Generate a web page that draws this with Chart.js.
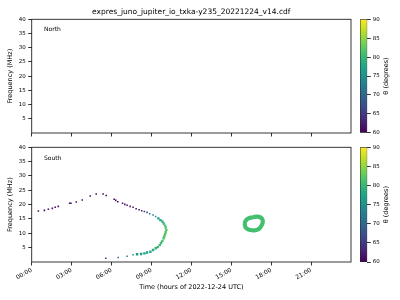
<!DOCTYPE html>
<html>
<head>
<meta charset="utf-8">
<script src="https://cdn.jsdelivr.net/npm/chart.js@4.4.1/dist/chart.umd.min.js"></script>
<style>
  body { margin: 0; background: #fff; }
  #fig { position: relative; width: 400px; height: 300px; overflow: hidden; }
  #fig canvas { position: absolute; }
</style>
</head>
<body>
<div id="fig">
  <canvas id="northChart" width="355" height="145" style="left:0;top:0"></canvas>
  <canvas id="northBar" width="45" height="145" style="left:355px;top:0"></canvas>
  <canvas id="southChart" width="355" height="160" style="left:0;top:140px"></canvas>
  <canvas id="southBar" width="45" height="160" style="left:355px;top:140px"></canvas>
</div>
<script>
// ---- data ----
var figTitle = "expres_juno_jupiter_io_txka-y235_20221224_v14.cdf";
var xLabel = "Time (hours of 2022-12-24 UTC)";
var yLabel = "Frequency (MHz)";
var cbLabel = "θ (degrees)";

var hourTicks = [0, 3, 6, 9, 12, 15, 18, 21];
var freqTicks = [5, 10, 15, 20, 25, 30, 35, 40];
var thetaTicks = [60, 65, 70, 75, 80, 85, 90];

// South hemisphere arc (hours, MHz, theta in degrees)
var southHours = [0.5, 0.95, 1.25, 1.55, 1.77, 2.0, 2.85, 2.95, 3.35, 3.8, 4.4, 4.85, 5.37, 5.6,
  6.2, 6.32, 6.47, 6.83, 7.0, 7.17, 7.4, 7.62, 7.85, 8.07, 8.27, 8.47, 8.67, 8.87, 9.12, 9.32,
  9.52, 9.67, 9.82, 9.92, 10.02, 10.07, 10.12, 10.07, 10.02, 9.97, 9.92, 9.82, 9.72, 9.62,
  9.47, 9.32, 9.12, 8.92, 8.67, 8.47, 8.22, 7.92, 7.62, 7.17, 6.5, 5.57];
var southFreq = [17.8, 18.0, 18.4, 18.7, 19.1, 19.4, 20.5, 20.5, 20.9, 21.6, 23.0, 23.7, 23.7, 23.2,
  21.9, 21.5, 21.0, 20.5, 20.1, 19.8, 19.4, 19.1, 18.6, 18.2, 17.9, 17.6, 17.3, 16.8, 16.4, 15.9,
  15.2, 14.6, 14.1, 13.4, 12.7, 12.0, 11.2, 10.4, 9.7, 9.0, 8.3, 7.3, 6.6, 5.9,
  5.2, 4.8, 4.2, 3.6, 3.3, 3.0, 2.8, 2.7, 2.5, 2.0, 1.6, 1.3];
var southTheta = [61, 61, 61, 61, 61, 61, 61, 61, 61, 61, 61, 61, 61, 61,
  61, 61, 61, 61.5, 61.5, 61.5, 62, 62, 62, 62.5, 63, 65, 67, 70, 73, 75,
  77, 78, 79, 80, 81, 82, 82, 82, 82, 82, 81.5, 81, 80.5, 80,
  79.5, 79, 78.5, 78, 77.5, 77, 76.5, 76, 75, 73.5, 71, 65];

// South ring near 17h
var ringHours = [16.62, 17.0, 17.3, 17.37, 17.27, 17.07, 16.75, 16.43, 16.13, 16.02, 16.07, 16.3];
var ringFreq = [15.6, 15.8, 15.2, 14.05, 12.7, 11.5, 11.05, 11.15, 11.75, 12.9, 14.3, 15.25];
var ringTheta = 81;

var thetaMin = 60;
var thetaMax = 90;
var hourMax = 24;
var freqMax = 40;

// ---- helpers ----
var viridisStops = ["#440154", "#482475", "#414487", "#355f8d", "#2a788e", "#21918c",
  "#22a884", "#44bf70", "#7ad151", "#bddf26", "#fde725"];

function hexRgb(h) {
  return [parseInt(h.substr(1, 2), 16), parseInt(h.substr(3, 2), 16), parseInt(h.substr(5, 2), 16)];
}

function viridis(v) {
  var t = (v - thetaMin) / (thetaMax - thetaMin);
  t = Math.min(1, Math.max(0, t)) * 10;
  var i = Math.min(9, Math.floor(t));
  var f = t - i;
  var a = hexRgb(viridisStops[i]), b = hexRgb(viridisStops[i + 1]);
  var c = a.map((x, k) => Math.round(x + (b[k] - x) * f));
  return "rgb(" + c.join(",") + ")";
}

function hhmm(v) {
  return (v < 10 ? "0" : "") + v + ":00";
}

Chart.defaults.font.family = "'DejaVu Sans', sans-serif";
Chart.defaults.color = "#000";
Chart.defaults.animation = false;

// box around the axes, like matplotlib spines
var frame = {
  id: "frame",
  afterDraw(chart) {
    var a = chart.chartArea, ctx = chart.ctx;
    ctx.save();
    ctx.strokeStyle = "#222";
    ctx.lineWidth = 0.9;
    ctx.strokeRect(a.left, a.top, a.right - a.left, a.bottom - a.top);
    ctx.restore();
  },
};

// free text: title, panel names, colorbar label
var notes = {
  id: "notes",
  afterDraw(chart, args, opts) {
    var a = chart.chartArea, ctx = chart.ctx;
    (opts.items || []).forEach((it) => {
      ctx.save();
      ctx.fillStyle = "#000";
      ctx.font = it.size + "px 'DejaVu Sans'";
      ctx.textAlign = it.align || "left";
      ctx.textBaseline = "middle";
      var x = it.fromRight ? a.right + it.dx : a.left + it.dx;
      var y = it.mid ? (a.top + a.bottom) / 2 : a.top + it.dy;
      ctx.translate(x, y);
      if (it.rotate) ctx.rotate(it.rotate);
      ctx.fillText(it.text, 0, 0);
      ctx.restore();
    });
  },
};

function panelScales(showTime) {
  return {
    x: {
      type: "linear",
      min: 0,
      max: hourMax,
      afterBuildTicks: (s) => {
        s.ticks = hourTicks.map((v) => ({ value: v }));
      },
      ticks: {
        display: showTime,
        autoSkip: false,
        minRotation: 30,
        maxRotation: 30,
        padding: 1,
        font: { size: 6 },
        callback: (v) => hhmm(v),
      },
      grid: { drawOnChartArea: false, tickLength: 3.5, color: "#000", lineWidth: 0.8 },
      border: { display: false },
      title: {
        display: showTime,
        text: xLabel,
        font: { size: 6.5 },
        padding: { top: 0, bottom: 9 },
      },
      afterFit: (s) => {
        s.height = showTime ? 38 : 12;
      },
    },
    y: {
      type: "linear",
      min: 0,
      max: freqMax,
      afterBuildTicks: (s) => {
        s.ticks = freqTicks.map((v) => ({ value: v }));
      },
      ticks: { padding: 2.5, font: { size: 5.5 } },
      grid: { drawOnChartArea: false, tickLength: 3.5, color: "#000", lineWidth: 0.8 },
      border: { display: false },
      title: {
        display: true,
        text: yLabel,
        font: { size: 6.5 },
        padding: { top: 6, bottom: 0 },
      },
      afterFit: (s) => {
        s.width = 31.7;
      },
    },
  };
}

// ---- North panel (empty) ----
new Chart(document.getElementById("northChart"), {
  type: "scatter",
  data: { datasets: [{ data: [] }] },
  options: {
    responsive: false,
    devicePixelRatio: 1,
    layout: { padding: { top: 19.3, right: 4, bottom: 0, left: 0 } },
    plugins: {
      legend: { display: false },
      tooltip: { enabled: false },
      notes: {
        items: [
          { text: figTitle, size: 7.5, align: "center", dx: 159.6, dy: -7.6 },
          { text: "North", size: 6, dx: 12.3, dy: 10 },
        ],
      },
    },
    scales: panelScales(false),
  },
  plugins: [frame, notes],
});

// ---- South panel ----
var southPoints = southHours.map((h, i) => ({ x: h, y: southFreq[i] }));
var ringPoints = ringHours.map((h, i) => ({ x: h, y: ringFreq[i] }));
ringPoints.push(ringPoints[0]);

new Chart(document.getElementById("southChart"), {
  type: "scatter",
  data: {
    datasets: [
      {
        label: "arc",
        data: southPoints,
        pointStyle: "rect",
        pointRadius: (c) => (southTheta[c.dataIndex] >= 76 ? 1.7 : 1.1),
        pointBorderWidth: 0,
        pointBackgroundColor: southTheta.map(viridis),
      },
      {
        label: "ring",
        data: ringPoints,
        showLine: true,
        tension: 0.5,
        borderWidth: 4.2,
        borderColor: viridis(ringTheta),
        pointRadius: 0,
      },
    ],
  },
  options: {
    responsive: false,
    devicePixelRatio: 1,
    layout: { padding: { top: 7.3, right: 4, bottom: 0, left: 0 } },
    plugins: {
      legend: { display: false },
      tooltip: { enabled: false },
      notes: { items: [{ text: "South", size: 6, dx: 12.3, dy: 11 }] },
    },
    scales: panelScales(true),
  },
  plugins: [frame, notes],
});

// ---- colorbars ----
function colorbar(id, padTop, padBottom) {
  return new Chart(document.getElementById(id), {
    type: "bar",
    data: {
      labels: [""],
      datasets: [
        {
          data: [[thetaMin, thetaMax]],
          barPercentage: 1,
          categoryPercentage: 1,
          borderColor: "#222",
          borderWidth: 0.8,
          borderSkipped: false,
          backgroundColor: (c) => {
            var a = c.chart.chartArea;
            if (!a) return viridisStops[5];
            var g = c.chart.ctx.createLinearGradient(0, a.bottom, 0, a.top);
            viridisStops.forEach((s, i) => g.addColorStop(i / 10, s));
            return g;
          },
        },
      ],
    },
    options: {
      responsive: false,
      devicePixelRatio: 1,
      layout: { padding: { top: padTop, bottom: padBottom, left: 5, right: 0 } },
      plugins: {
        legend: { display: false },
        tooltip: { enabled: false },
        notes: {
          items: [{ text: cbLabel, size: 6.5, align: "center", fromRight: true, dx: 19, mid: true, rotate: -Math.PI / 2 }],
        },
      },
      scales: {
        x: { display: false },
        y: {
          position: "right",
          min: thetaMin,
          max: thetaMax,
          afterBuildTicks: (s) => {
            s.ticks = thetaTicks.map((v) => ({ value: v }));
          },
          ticks: { padding: 2, font: { size: 5.5 } },
          grid: { drawOnChartArea: false, tickLength: 3.5, color: "#000", lineWidth: 0.8 },
          border: { display: false },
          afterFit: (s) => {
            s.width = 32.7;
          },
        },
      },
    },
    plugins: [notes],
  });
}

colorbar("northBar", 19.3, 12.3);
colorbar("southBar", 7.3, 38);
</script>
</body>
</html>
